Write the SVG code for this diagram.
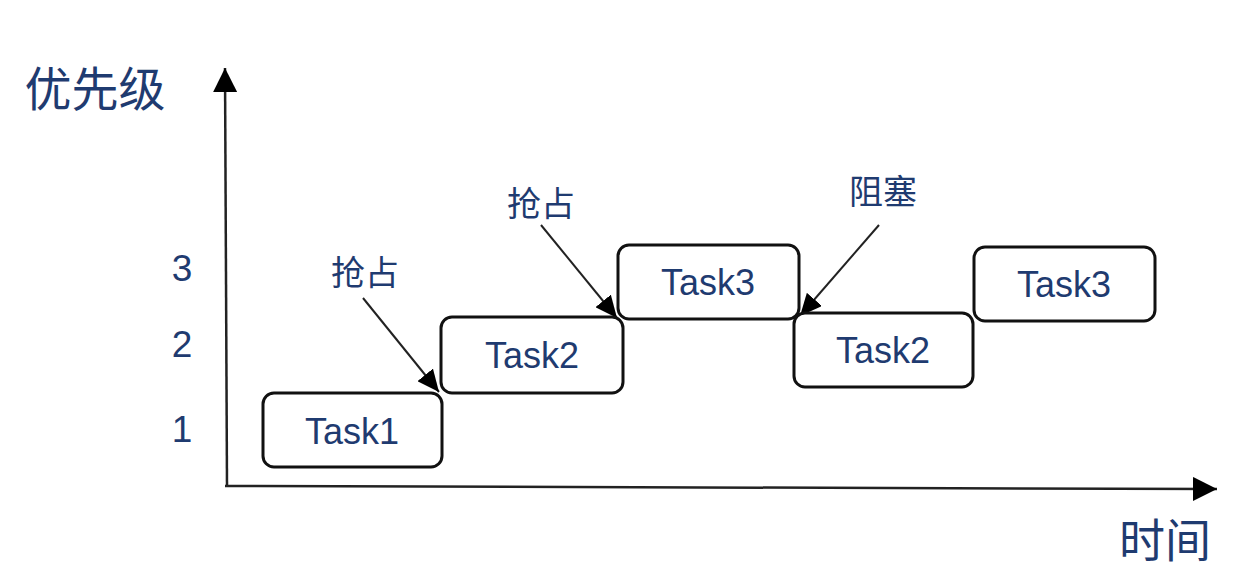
<svg xmlns="http://www.w3.org/2000/svg" width="1258" height="582" viewBox="0 0 1258 582">
  <defs>
    <style>
      .box { fill: #ffffff; stroke: #111111; stroke-width: 3; }
      .task { font-family: "Liberation Sans", "Noto Sans", sans-serif; font-size: 36px; fill: #1f3b70; text-anchor: middle; }
      .cjk { font-family: "Noto Sans CJK SC", "Noto Sans", sans-serif; fill: #1f3b70; text-anchor: middle; }
      .num { font-family: "Liberation Sans", "Noto Sans", sans-serif; font-size: 37px; fill: #1f3b70; text-anchor: middle; }
      .axis { stroke: #222222; stroke-width: 2.5; fill: none; }
      .conn { stroke: #222222; stroke-width: 2; fill: none; }
    </style>
    <marker id="axisHead" markerUnits="userSpaceOnUse" markerWidth="24" markerHeight="24" refX="24" refY="12" orient="auto" viewBox="0 0 24 24">
      <path d="M0,0 L24,12 L0,24 z" fill="#000000"/>
    </marker>
    <marker id="arrowHead" markerUnits="userSpaceOnUse" markerWidth="22" markerHeight="20" refX="22" refY="10" orient="auto" viewBox="0 0 22 20">
      <path d="M0,0 L22,10 L0,20 z" fill="#000000"/>
    </marker>
  </defs>
  <rect width="1258" height="582" fill="#ffffff"/>

  <g id="axes">
    <line class="axis" x1="227" y1="487" x2="225" y2="68" marker-end="url(#axisHead)"/>
    <line class="axis" x1="225" y1="486" x2="1217" y2="489" marker-end="url(#axisHead)"/>
    <text class="cjk" x="95" y="106" font-size="47">优先级</text>
    <text class="cjk" x="1165" y="557" font-size="46">时间</text>
    <text class="num" x="182" y="281">3</text>
    <text class="num" x="182" y="357">2</text>
    <text class="num" x="182" y="442">1</text>
  </g>

  <g id="connectors">
    <line class="conn" x1="363" y1="298" x2="439" y2="392" marker-end="url(#arrowHead)"/>
    <line class="conn" x1="541" y1="225" x2="617" y2="318" marker-end="url(#arrowHead)"/>
    <line class="conn" x1="879" y1="225" x2="800" y2="316" marker-end="url(#arrowHead)"/>
    <text class="cjk" x="365" y="285" font-size="34">抢占</text>
    <text class="cjk" x="541" y="216" font-size="34">抢占</text>
    <text class="cjk" x="883" y="204" font-size="34">阻塞</text>
  </g>

  <g id="task1">
    <rect class="box" x="263" y="393" width="179" height="74" rx="11"/>
    <text class="task" x="352" y="444">Task1</text>
  </g>
  <g id="task2a">
    <rect class="box" x="441" y="317" width="182" height="76" rx="11"/>
    <text class="task" x="532" y="368">Task2</text>
  </g>
  <g id="task3a">
    <rect class="box" x="618" y="245" width="181" height="74" rx="11"/>
    <text class="task" x="708" y="295">Task3</text>
  </g>
  <g id="task2b">
    <rect class="box" x="794" y="313" width="179" height="74" rx="11"/>
    <text class="task" x="883" y="363">Task2</text>
  </g>
  <g id="task3b">
    <rect class="box" x="974" y="247" width="181" height="74" rx="11"/>
    <text class="task" x="1064" y="297">Task3</text>
  </g>
</svg>
